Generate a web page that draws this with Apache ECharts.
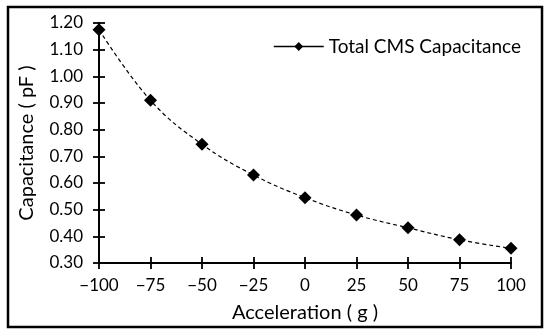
<!DOCTYPE html>
<html><head><meta charset="utf-8">
<script src="https://cdn.jsdelivr.net/npm/echarts@6/dist/echarts.min.js"></script>
<style>html,body{margin:0;padding:0;background:#fff}#c{width:550px;height:335px}</style>
</head><body><div id="c"></div>
<script>
const accel = [-100, -75, -50, -25, 0, 25, 50, 75, 100];
const capacitance = [1.175, 0.91, 0.745, 0.63, 0.545, 0.48, 0.432, 0.387, 0.355];
const seriesName = 'Total CMS Capacitance';
const xTitle = 'Acceleration ( g )';
const yTitle = 'Capacitance ( pF )';

const font = 'Lato, "Open Sans", sans-serif';
const chart = echarts.init(document.getElementById('c'));
const axisLine = {show: true, onZero: false, lineStyle: {color: '#000', width: 1.8}};
const tickStyle = {color: '#000', width: 1.8};
const gridPos = {left: 99, right: 39, top: 23, bottom: 72};
chart.setOption({
  animation: false,
  backgroundColor: '#fff',
  grid: [gridPos, Object.assign({}, gridPos)],
  legend: {
    data: [seriesName], left: 268, top: 32, itemWidth: 50, itemHeight: 11, itemGap: 4,
    textStyle: {fontFamily: font, fontSize: 19, color: '#000'},
    itemStyle: {color: '#000'}, lineStyle: {type: 'solid', color: '#000', width: 1.5}
  },
  xAxis: [{
    gridIndex: 0, type: 'value', min: -100, max: 100, interval: 25,
    name: xTitle, nameLocation: 'middle', nameGap: 40,
    nameTextStyle: {fontFamily: font, fontSize: 20, color: '#000'},
    axisLine: axisLine, axisTick: {show: true, length: 6, lineStyle: tickStyle},
    axisLabel: {fontFamily: font, fontSize: 17, color: '#000', margin: 14,
      formatter: v => (v < 0 ? '\u2212' + Math.abs(v) : String(v))},
    splitLine: {show: false}
  }, {
    gridIndex: 1, type: 'value', min: -100, max: 100, interval: 25, position: 'bottom',
    axisLine: axisLine, axisTick: {show: true, inside: true, length: 6, lineStyle: tickStyle},
    axisLabel: {show: false}, splitLine: {show: false}
  }],
  yAxis: [{
    gridIndex: 0, type: 'value', min: 0.3, max: 1.2, interval: 0.1,
    name: yTitle, nameLocation: 'middle', nameGap: 62,
    nameTextStyle: {fontFamily: font, fontSize: 20, color: '#000'},
    axisLine: axisLine, axisTick: {show: true, length: 6, lineStyle: tickStyle},
    axisLabel: {fontFamily: font, fontSize: 17, color: '#000', margin: 16, formatter: v => v.toFixed(2)},
    splitLine: {show: false}
  }, {
    gridIndex: 1, type: 'value', min: 0.3, max: 1.2, interval: 0.1, position: 'left',
    axisLine: axisLine, axisTick: {show: true, inside: true, length: 6, lineStyle: tickStyle},
    axisLabel: {show: false}, splitLine: {show: false}
  }],
  graphic: [{
    type: 'rect', shape: {x: 8, y: 7, width: 534, height: 320},
    style: {fill: 'none', stroke: '#000', lineWidth: 2.5}, silent: true
  }],
  series: [{
    name: seriesName, type: 'line', smooth: 0.4, xAxisIndex: 0, yAxisIndex: 0,
    data: accel.map((a, i) => [a, capacitance[i]]),
    symbol: 'diamond', symbolSize: 13,
    itemStyle: {color: '#000'},
    lineStyle: {color: '#000', width: 1.2, type: [4, 3]}
  }]
});
</script></body></html>
